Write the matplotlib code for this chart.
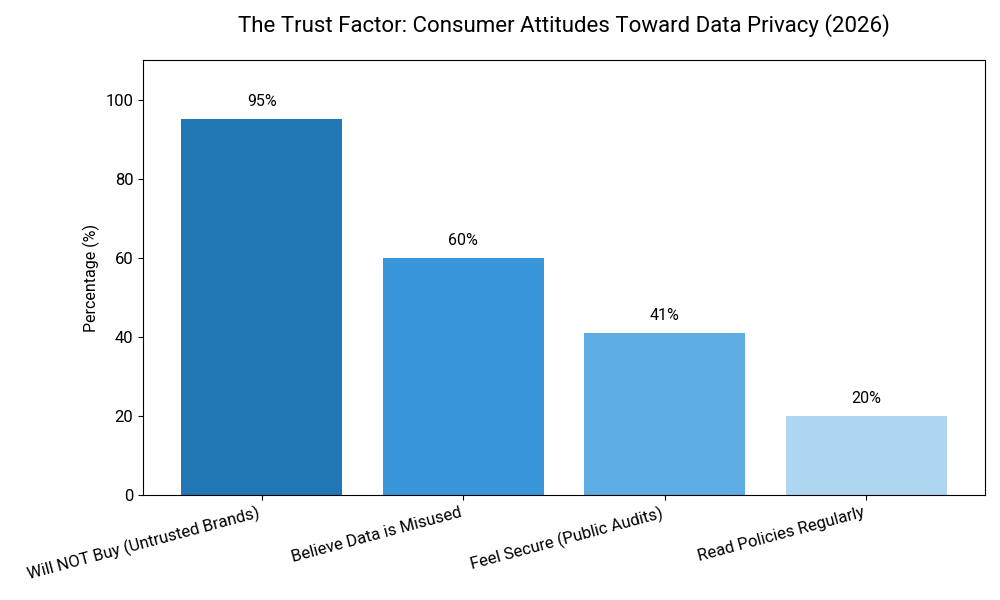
import matplotlib
matplotlib.use("Agg")
import matplotlib.pyplot as plt

categories = ["Will NOT Buy (Untrusted Brands)", "Believe Data is Misused",
              "Feel Secure (Public Audits)", "Read Policies Regularly"]
values = [95, 60, 41, 20]
colors = ["#2077b4", "#3896d9", "#5dade2", "#aed6f1"]

plt.rcParams['font.family'] = ['Roboto', 'DejaVu Sans']

fig = plt.figure(figsize=(10, 6), dpi=100)
ax = fig.add_axes([0.143, 0.175, 0.842, 0.725])
bars = ax.bar(categories, values, color=colors, width=0.8)
for b, v in zip(bars, values):
    ax.text(b.get_x() + b.get_width() / 2, v + 2.5, f"{v}%", ha="center", va="bottom", fontsize=11.5)
ax.set_ylim(0, 110)
ax.set_ylabel("Percentage (%)", fontsize=11.5)
ax.set_title("The Trust Factor: Consumer Attitudes Toward Data Privacy (2026)", fontsize=16, pad=20)
ax.tick_params(axis="both", labelsize=12)
plt.setp(ax.get_xticklabels(), rotation=15, ha="right")
fig.savefig("out.png", dpi=100)
